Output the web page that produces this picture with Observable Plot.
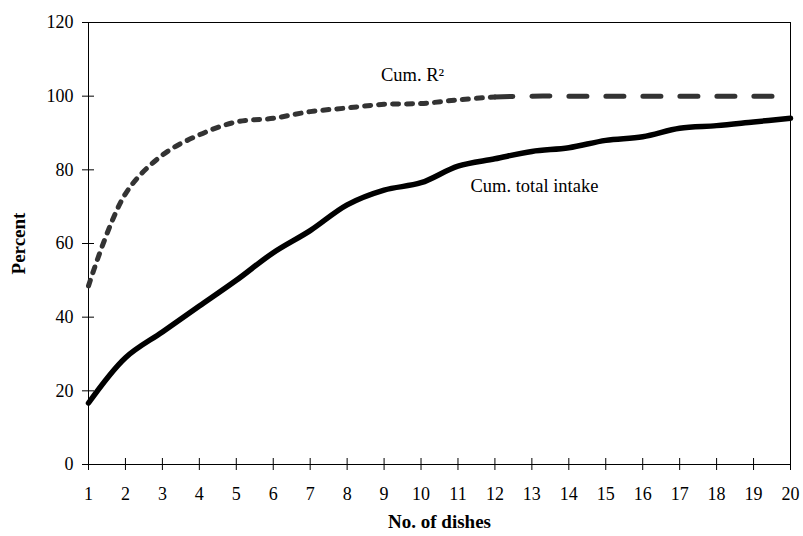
<!DOCTYPE html>
<html>
<head>
<meta charset="utf-8">
<script src="https://cdn.jsdelivr.net/npm/d3@7"></script>
<script src="https://cdn.jsdelivr.net/npm/@observablehq/plot@0.6"></script>
<style>
  html, body { margin: 0; padding: 0; background: #fff; }
</style>
</head>
<body>
<div id="chart"></div>
<script>
const dishes = [1,2,3,4,5,6,7,8,9,10,11,12,13,14,15,16,17,18,19,20];
const cumTotalIntake = [16.7,29,36,43,50,57.5,63.5,70.5,74.5,76.5,81,83,85,86,88,89,91.3,92,93,94];
const cumR2 = [48.5,73.5,84,89.5,93,94,95.8,96.8,97.8,98,99,99.8,100,100,100,100,100,100,100,100];
const yTicks = [0,20,40,60,80,100,120];
const annotations = [
  {x: 9.77, y: 105.6, label: "Cum. R²"},
  {x: 13.07, y: 75.5, label: "Cum. total intake"}
];

const intake = dishes.map((d, i) => ({x: d, y: cumTotalIntake[i]}));
const r2 = dishes.map((d, i) => ({x: d, y: cumR2[i]}));

const chart = Plot.plot({
  width: 803,
  height: 536,
  marginLeft: 88,
  marginRight: 13,
  marginTop: 22,
  marginBottom: 72,
  style: {fontFamily: "'Liberation Serif', 'Times New Roman', serif", fontSize: "18px", color: "#000", background: "#fff"},
  x: {domain: [1, 20], ticks: dishes, label: null},
  y: {domain: [0, 120], ticks: yTicks, label: null},
  marks: [
    Plot.frame({stroke: "#000", strokeWidth: 1}),
    Plot.axisY({ticks: yTicks, tickSize: 6, tickPadding: 9, fontSize: 18, label: null}),
    Plot.axisY({ticks: yTicks, tickSize: -6, tickFormat: () => "", label: null}),
    Plot.axisX({ticks: dishes, tickSize: 6, tickPadding: 17, fontSize: 18, label: null}),
    Plot.axisX({ticks: dishes, tickSize: -6, tickFormat: () => "", label: null}),
    Plot.line(r2, {filter: (d) => d.x <= 12, x: "x", y: "y", curve: "catmull-rom", stroke: "#333", strokeWidth: 5, strokeDasharray: "6,8"}),
    Plot.line(r2, {filter: (d) => d.x >= 12, x: "x", y: "y", curve: "catmull-rom", stroke: "#333", strokeWidth: 5, strokeDasharray: "18,19"}),
    Plot.line(intake, {x: "x", y: "y", curve: "catmull-rom", stroke: "#000", strokeWidth: 5.5}),
    Plot.text(annotations, {x: "x", y: "y", text: "label", fontSize: 18.5, fill: "#000"}),
    Plot.text(["Percent"], {frameAnchor: "left", dx: -70, rotate: -90, textAnchor: "middle", fontSize: 19, fontWeight: "bold"}),
    Plot.text(["No. of dishes"], {frameAnchor: "bottom", dy: 63, textAnchor: "middle", fontSize: 19, fontWeight: "bold"})
  ]
});
document.getElementById("chart").append(chart);
</script>
</body>
</html>
